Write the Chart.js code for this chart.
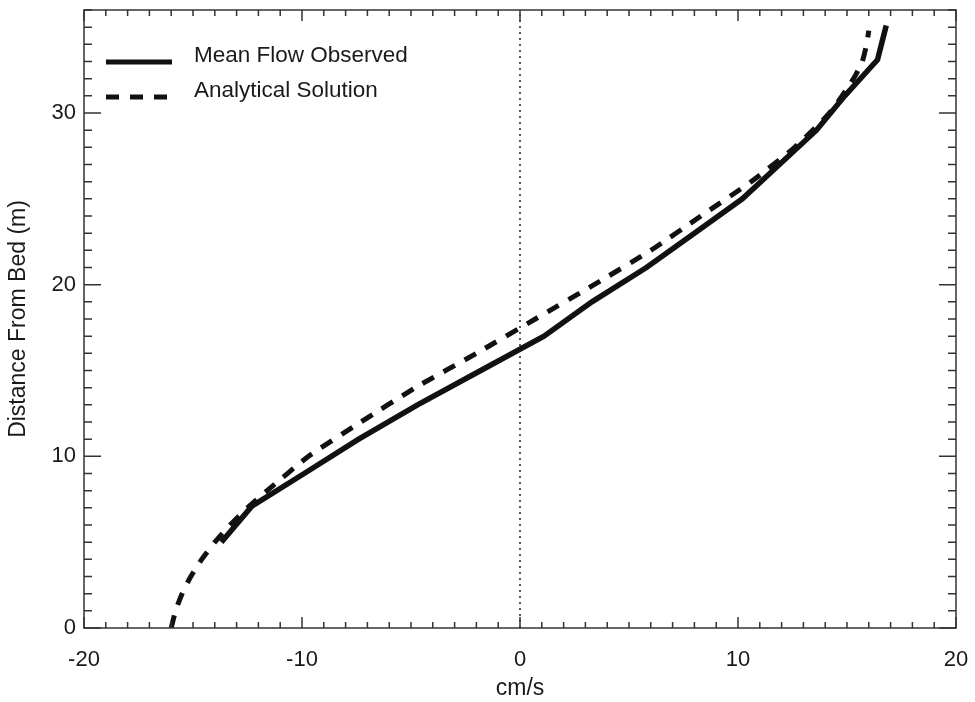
<!DOCTYPE html>
<html>
<head>
<meta charset="utf-8">
<script src="https://cdn.jsdelivr.net/npm/chart.js@4"></script>
<style>
  html, body { margin: 0; padding: 0; background: #fff; }
  #wrap { width: 975px; height: 702px; }
</style>
</head>
<body>
<div id="wrap"><canvas id="myChart"></canvas></div>
<script>
// observed mean flow profile (cm/s) against height above bed (m)
const observedDepth = [5, 7.1, 9, 11, 13, 15, 17, 19, 21, 23, 25, 27, 29, 31, 33.1, 35.1];
const observedSpeed = [-13.7, -12.3, -9.9, -7.4, -4.7, -1.8, 1.1, 3.3, 5.8, 8.0, 10.2, 11.9, 13.6, 14.9, 16.4, 16.8];

// analytical solution for the same profile
const analyticDepth = [0, 1, 2, 3, 4, 5, 6, 7, 8, 10, 12, 14, 16, 18, 20, 22, 24, 26, 28, 30, 32, 33, 34, 34.8];
const analyticSpeed = [-16.0, -15.8, -15.5, -15.1, -14.6, -14.0, -13.3, -12.5, -11.6, -9.7, -7.3, -4.8, -2.0, 0.7, 3.4, 6.0, 8.3, 10.6, 12.6, 14.2, 15.3, 15.7, 15.9, 16.0];

// zero velocity reference
const zeroSpeed = [0, 0];
const zeroDepth = [0, 36];

const xTicks = [-20, -10, 0, 10, 20];
const yTicks = [0, 10, 20, 30];

const font = "'Liberation Sans', Arial, Helvetica, sans-serif";
const ink = '#1a1a1a';

function pairs(xs, ys) {
  return xs.map((v, i) => ({ x: v, y: ys[i] }));
}

// box frame with inward minor/major ticks on all four sides
const frameTicks = {
  id: 'frameTicks',
  afterDraw(chart) {
    const { ctx, chartArea: a, scales: { x, y } } = chart;
    ctx.save();
    ctx.strokeStyle = '#333';
    ctx.lineWidth = 1.5;
    ctx.strokeRect(a.left, a.top, a.right - a.left, a.bottom - a.top);
    ctx.beginPath();
    for (let v = x.min; v <= x.max; v++) {
      const px = x.getPixelForValue(v);
      const len = v % 10 === 0 ? 11 : 6;
      ctx.moveTo(px, a.bottom); ctx.lineTo(px, a.bottom - len);
      ctx.moveTo(px, a.top); ctx.lineTo(px, a.top + len);
    }
    for (let v = y.min; v <= y.max; v++) {
      const py = y.getPixelForValue(v);
      const len = v % 10 === 0 ? 17 : 8;
      ctx.moveTo(a.left, py); ctx.lineTo(a.left + len, py);
      ctx.moveTo(a.right, py); ctx.lineTo(a.right - len, py);
    }
    ctx.stroke();
    ctx.restore();
  }
};

// legend drawn inside the plot, top left
const insideLegend = {
  id: 'insideLegend',
  afterDraw(chart) {
    const { ctx, chartArea: a } = chart;
    const items = chart.data.datasets.filter(d => d.inLegend);
    ctx.save();
    items.forEach((d, i) => {
      const yy = a.top + 52 + i * 35;
      ctx.strokeStyle = d.borderColor;
      ctx.lineWidth = 5;
      ctx.setLineDash(d.borderDash || []);
      ctx.beginPath();
      ctx.moveTo(a.left + 22, yy);
      ctx.lineTo(a.left + (d.borderDash ? 83 : 88), yy);
      ctx.stroke();
      ctx.setLineDash([]);
      ctx.fillStyle = ink;
      ctx.font = '22.5px ' + font;
      ctx.textBaseline = 'middle';
      ctx.fillText(d.label, a.left + 110, yy - 6);
    });
    ctx.restore();
  }
};

const ctx = document.getElementById('myChart').getContext('2d');
const myChart = new Chart(ctx, {
  type: 'scatter',
  data: {
    datasets: [{
      label: 'Mean Flow Observed',
      data: pairs(observedSpeed, observedDepth),
      showLine: true,
      borderColor: '#111',
      borderWidth: 5.5,
      pointRadius: 0,
      tension: 0,
      inLegend: true
    }, {
      label: 'Analytical Solution',
      data: pairs(analyticSpeed, analyticDepth),
      showLine: true,
      borderColor: '#111',
      borderWidth: 5,
      borderDash: [13, 11],
      borderCapStyle: 'butt',
      pointRadius: 0,
      tension: 0.2,
      inLegend: true
    }, {
      label: 'zero',
      data: pairs(zeroSpeed, zeroDepth),
      showLine: true,
      borderColor: '#222',
      borderWidth: 1.5,
      borderDash: [2, 4],
      pointRadius: 0
    }]
  },
  options: {
    responsive: true,
    maintainAspectRatio: false,
    animation: false,
    layout: { padding: { top: 10, right: 19, left: 0, bottom: 0 } },
    plugins: {
      legend: { display: false },
      tooltip: { enabled: false }
    },
    scales: {
      x: {
        type: 'linear',
        min: -20,
        max: 20,
        afterBuildTicks: s => { s.ticks = xTicks.map(v => ({ value: v })); },
        afterFit: s => { s.height = 74; s.paddingLeft = 0; s.paddingRight = 0; },
        ticks: {
          color: ink,
          padding: 19,
          maxRotation: 0,
          font: { family: font, size: 22 }
        },
        grid: { display: false, drawTicks: false },
        border: { display: false },
        title: {
          display: true,
          text: 'cm/s',
          color: ink,
          font: { family: font, size: 23 },
          padding: { top: 0, bottom: 0 }
        }
      },
      y: {
        type: 'linear',
        min: 0,
        max: 36,
        afterBuildTicks: s => { s.ticks = yTicks.map(v => ({ value: v })); },
        afterFit: s => { s.width = 84; s.paddingTop = 0; s.paddingBottom = 0; },
        ticks: {
          color: ink,
          padding: 8,
          font: { family: font, size: 22 }
        },
        grid: { display: false, drawTicks: false },
        border: { display: false },
        title: {
          display: true,
          text: 'Distance From Bed (m)',
          color: ink,
          font: { family: font, size: 23 },
          padding: { top: 5, bottom: 0 }
        }
      }
    }
  },
  plugins: [frameTicks, insideLegend]
});
</script>
</body>
</html>
